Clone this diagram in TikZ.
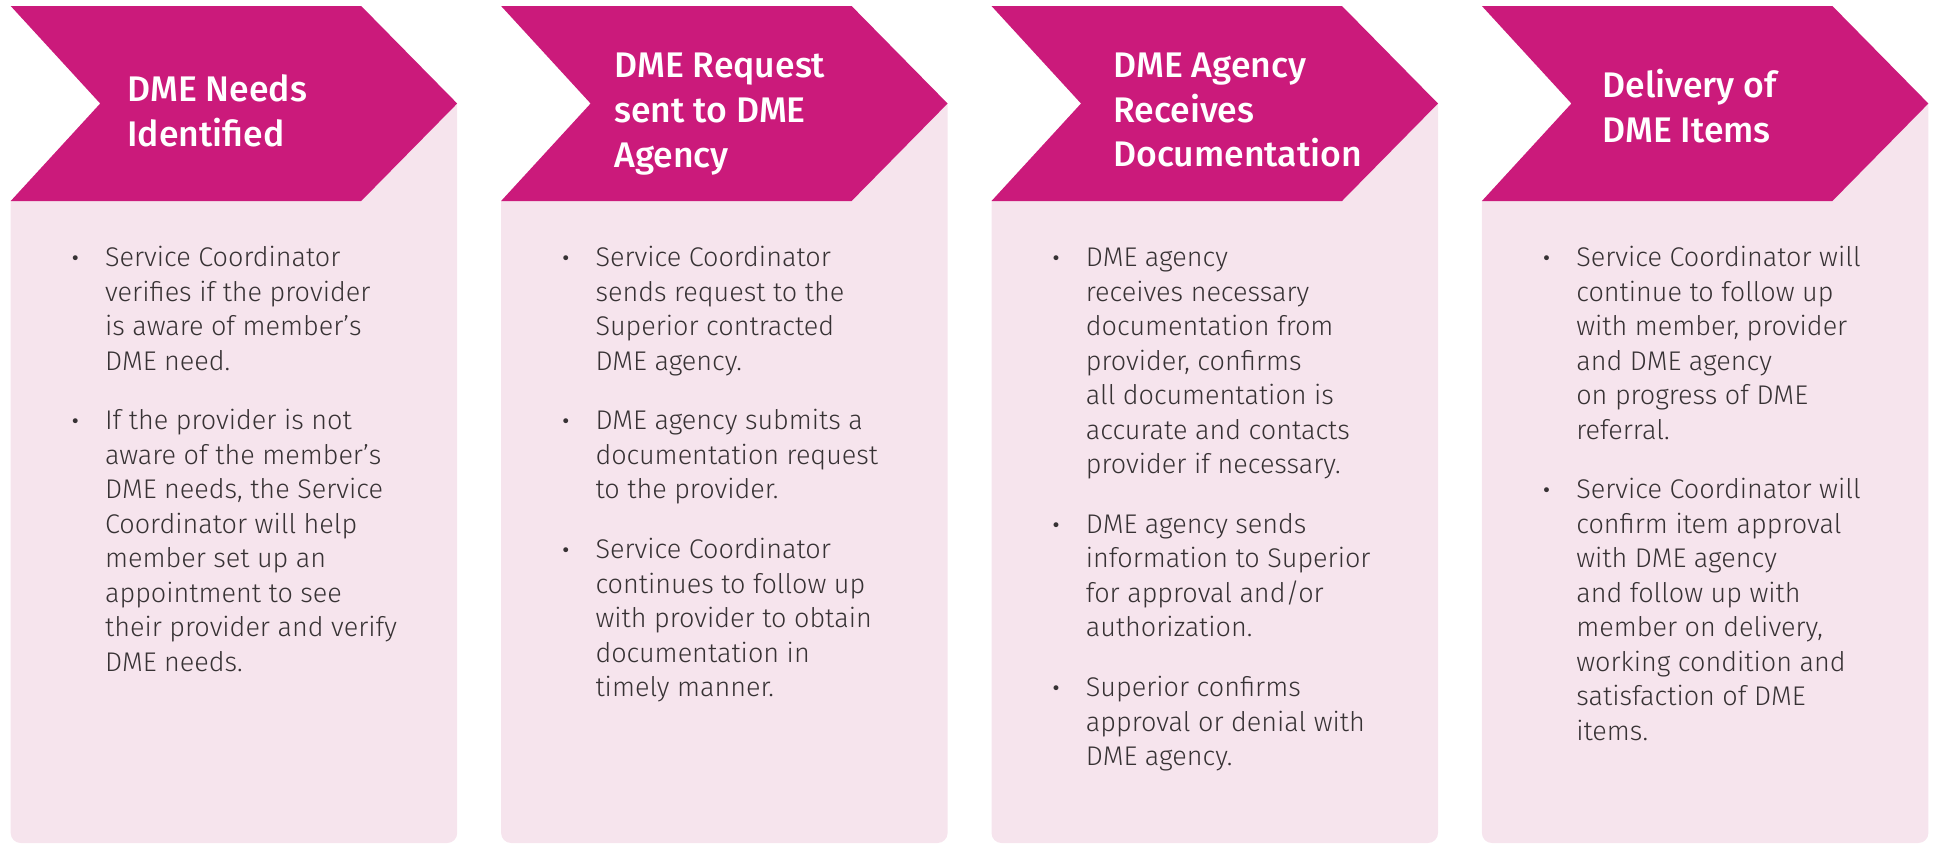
\documentclass[tikz,border=0pt]{standalone}
\usepackage{fontspec}
\setmainfont{Fira Sans}
\newfontfamily\bodyfont{Fira Sans Light}
\newfontfamily\headfont{Fira Sans Medium}
\usepackage{tikz}
\usetikzlibrary{positioning,calc}
\definecolor{dmemagenta}{HTML}{CB1A7B}
\definecolor{dmepink}{HTML}{F6E4ED}
\definecolor{dmetext}{HTML}{373234}
\newcommand{\headsize}{\fontsize{17.8}{22.3}\selectfont}
\newcommand{\bodysize}{\fontsize{13.5}{17.25}\selectfont}
\newcommand{\bul}{\makebox[17.5pt][l]{\hspace{1pt}{\rmfamily\bfseries ·}}}
\newcommand{\itemgap}{12.7pt}

\begin{document}
\begin{tikzpicture}[
x=0.5pt,y=-0.5pt,
Chevron/.style={fill=dmemagenta},
Panel/.style={fill=dmepink},
HeadText/.style={text=white,font=\headfont\headsize,align=left,anchor=west,inner sep=0pt},
BodyText/.style={text=dmetext,font=\bodyfont\bodysize,anchor=north west,inner sep=0pt}
]
\useasboundingbox (0,0) rectangle (1935,843);

% four stages, left edge of each at 10.7 + 490.4*i
\foreach \i in {0,...,3}{
  \pgfmathsetmacro{\L}{10.7+490.4*\i}
  \pgfmathsetmacro{\C}{\L+350.5}
  \pgfmathsetmacro{\T}{\L+446.5}
  \pgfmathsetmacro{\N}{\L+89.5}
  \fill[Panel] (\L,201) -- (\T,103.5) [rounded corners=5] -- (\T,843) -- (\L,843) [sharp corners] -- cycle;
  \fill[Chevron] (\L,6) -- (\C,6) -- (\T,103.5) -- (\C,201) -- (\L,201) -- (\N,103.5) -- cycle;
}

%% headers
\node[HeadText] (h1) at (127,111) {DME Needs\\Identified};
\node[HeadText] (h2) at (614,114) {DME Request\\sent to DME\\Agency};
\node[HeadText] (h3) at (1113,110) {DME Agency\\Receives\\Documentation};
\node[HeadText] (h4) at (1602,106) {Delivery of\\DME Items};

%% bullet lists
\node[BodyText] (b1) at (69.7,242) {\begin{tabular}[t]{@{}l@{}l@{}}
\bul & Service Coordinator\\
 & verifies if the provider\\
 & is aware of member’s\\
 & DME need.\\[\itemgap]
\bul & If the provider is not\\
 & aware of the member’s\\
 & DME needs, the Service\\
 & Coordinator will help\\
 & member set up an\\
 & appointment to see\\
 & their provider and verify\\
 & DME needs.
\end{tabular}};

\node[BodyText] (b2) at (560.1,242) {\begin{tabular}[t]{@{}l@{}l@{}}
\bul & Service Coordinator\\
 & sends request to the\\
 & Superior contracted\\
 & DME agency.\\[\itemgap]
\bul & DME agency submits a\\
 & documentation request\\
 & to the provider.\\[\itemgap]
\bul & Service Coordinator\\
 & continues to follow up\\
 & with provider to obtain\\
 & documentation in\\
 & timely manner.
\end{tabular}};

\node[BodyText] (b3) at (1050.5,242) {\begin{tabular}[t]{@{}l@{}l@{}}
\bul & DME agency\\
 & receives necessary\\
 & documentation from\\
 & provider, confirms\\
 & all documentation is\\
 & accurate and contacts\\
 & provider if necessary.\\[\itemgap]
\bul & DME agency sends\\
 & information to Superior\\
 & for approval and/or\\
 & authorization.\\[\itemgap]
\bul & Superior confirms\\
 & approval or denial with\\
 & DME agency.
\end{tabular}};

\node[BodyText] (b4) at (1540.9,242) {\begin{tabular}[t]{@{}l@{}l@{}}
\bul & Service Coordinator will\\
 & continue to follow up\\
 & with member, provider\\
 & and DME agency\\
 & on progress of DME\\
 & referral.\\[\itemgap]
\bul & Service Coordinator will\\
 & confirm item approval\\
 & with DME agency\\
 & and follow up with\\
 & member on delivery,\\
 & working condition and\\
 & satisfaction of DME\\
 & items.
\end{tabular}};

\end{tikzpicture}
\end{document}
